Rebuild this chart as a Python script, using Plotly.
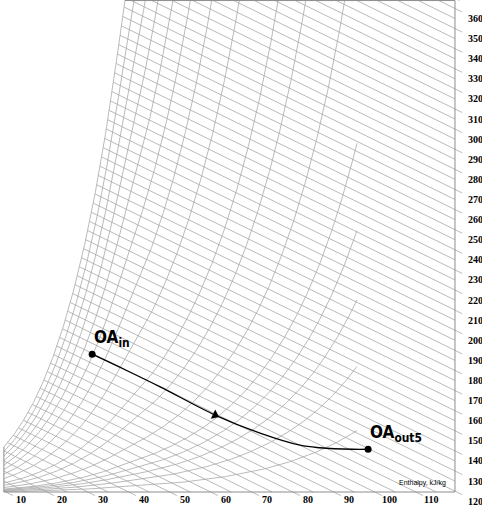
import numpy as np
import plotly.graph_objects as go

# ---- values ----
rh_levels = [100, 90, 80, 70, 60, 50, 40, 30, 20, 15, 10, 6.5, 5, 3.75, 2.5, 1.25]   # relative humidity, %
enthalpy_grid = list(range(10, 370, 5))                                             # kJ/kg, one line every 5
enthalpy_labels = list(range(10, 370, 10))                                          # labelled lines

# process OA_in -> OA_out5 (dry bulb degC, humidity ratio g/kg)
process_T = [30.9, 38.9, 47.4, 60.7, 71.6, 81.3, 86.1, 94.1, 97.8]
process_W = [27.4, 24.3, 20.9, 15.3, 11.7, 9.3, 8.8, 8.5, 8.5]
point_names = ["OA<sub>in</sub>", "OA<sub>out5</sub>"]
point_T = [30.9, 97.8]
point_W = [27.4, 8.5]
arrow_T, arrow_W = 60.7, 15.3

# chart extents
T_MIN, T_MAX, T_EDGE = 9.5, 95.1, 118.86
W_TOP = 97.7
T_TOP = 38.86          # saturation meets the top edge here
X_RANGE = [8.56, 125.41]
Y_RANGE = [-2.98, 97.81]
FIG_W, FIG_H = 482, 507
PX_T = FIG_W / (X_RANGE[1] - X_RANGE[0])
PX_W = FIG_H / (Y_RANGE[1] - Y_RANGE[0])

# saturation ratio: slope of ln(ps/p) follows B/(T+C)^2 at low T, levels off at high T
SAT_B, SAT_C, SAT_SLOPE_HI = 930.0, 86.5, 0.043

GRID = "#a8a8a8"
FRAME = "#8c8c8c"

t_grid = np.linspace(T_MIN - 1, T_EDGE, 3000)
sig = SAT_B / (t_grid + SAT_C) ** 2
blend = np.clip((43.0 - t_grid) / 8.0, 0, 1)
blend = 0.5 - 0.5 * np.cos(np.pi * blend)
sig = SAT_SLOPE_HI + (sig - SAT_SLOPE_HI) * blend
ln_s = np.concatenate([[0.0], np.cumsum(0.5 * (sig[1:] + sig[:-1]) * np.diff(t_grid))])
s_top = W_TOP / (622.0 + W_TOP)
ln_s = ln_s - np.interp(T_TOP, t_grid, ln_s) + np.log(s_top)


def humidity(t, rh):
    s = np.exp(np.interp(t, t_grid, ln_s)) * rh / 100.0
    w = np.where(s < 0.95, 622.0 * s / (1.0 - np.minimum(s, 0.95)), np.nan)
    return w


def enthalpy(t, w):
    return 1.006 * t + 2.501 * w


fig = go.Figure()

# relative humidity curves
t_fine = np.linspace(T_MIN, T_MAX, 800)
rx, ry = [], []
for rh in rh_levels:
    w = humidity(t_fine, rh)
    keep = w <= W_TOP + 3
    rx += list(t_fine[keep]) + [None]
    ry += list(w[keep]) + [None]
fig.add_trace(go.Scatter(x=rx, y=ry, mode="lines", line=dict(color=GRID, width=0.8),
                         hoverinfo="skip", showlegend=False))

# enthalpy lines: from the saturation curve (or chart edge) to the frame
w_sat = humidity(t_fine, 100)
ok = w_sat <= W_TOP
h_sat = enthalpy(t_fine[ok], w_sat[ok])
t_sat_top = float(np.interp(W_TOP, w_sat[ok], t_fine[ok]))
h_top = enthalpy(t_sat_top, W_TOP)
ext = 8.0
dx = 0.898 * ext / PX_T
dy = -0.44 * ext / PX_W

hx, hy = [], []
label_pts = []
for h in enthalpy_grid:
    if h < h_sat[0]:
        t0, w0 = T_MIN, (h - 1.006 * T_MIN) / 2.501
    elif h <= h_top:
        t0 = float(np.interp(h, h_sat, t_fine[ok]))
        w0 = (h - 1.006 * t0) / 2.501
    else:
        w0 = W_TOP
        t0 = (h - 2.501 * W_TOP) / 1.006
    if h - 1.006 * T_EDGE > 0:
        t1, w1, side = T_EDGE, (h - 1.006 * T_EDGE) / 2.501, "right"
    else:
        t1, w1, side = h / 1.006, 0.0, "bottom"
    if w0 < 0:
        continue
    if h in enthalpy_labels:
        hx += [t0, t1 + dx, None]
        hy += [w0, w1 + dy, None]
        label_pts.append((h, t1, w1, side))
    else:
        hx += [t0, t1, None]
        hy += [w0, w1, None]
fig.add_trace(go.Scatter(x=hx, y=hy, mode="lines", line=dict(color=GRID, width=0.8),
                         hoverinfo="skip", showlegend=False))

# frame
w_left = float(humidity(np.array([T_MIN]), 100)[0])
fig.add_trace(go.Scatter(
    x=[T_MIN, T_MIN, None, T_MIN, T_EDGE, T_EDGE, t_sat_top],
    y=[w_left, 0, None, 0, 0, W_TOP, W_TOP],
    mode="lines", line=dict(color=FRAME, width=1), hoverinfo="skip", showlegend=False))

# process line
fig.add_trace(go.Scatter(x=process_T, y=process_W, mode="lines",
                         line=dict(color="black", width=1.3, shape="spline"),
                         hoverinfo="skip", showlegend=False))
fig.add_trace(go.Scatter(x=[arrow_T], y=[arrow_W], mode="markers",
                         marker=dict(symbol="triangle-right", size=9, color="black", angle=25),
                         hoverinfo="skip", showlegend=False))
fig.add_trace(go.Scatter(x=point_T, y=point_W, mode="markers",
                         marker=dict(size=7, color="black"),
                         hoverinfo="skip", showlegend=False))

annotations = []
for name, t, w in zip(point_names, point_T, point_W):
    annotations.append(dict(x=t, y=w, text="<b>" + name + "</b>", showarrow=False,
                            xanchor="left", yanchor="bottom", xshift=0, yshift=2,
                            font=dict(family="Liberation Sans Narrow, DejaVu Sans Condensed, sans-serif",
                                      size=17, color="black")))

tick_font = dict(family="Liberation Serif, Times New Roman, serif", size=10, color="black")
for h, t, w, side in label_pts:
    if side == "bottom":
        annotations.append(dict(x=t, y=w, text="<b>%d</b>" % h, showarrow=False,
                                xanchor="center", yanchor="bottom", xshift=15, yshift=-15,
                                font=tick_font))
    else:
        annotations.append(dict(x=t, y=w, text="<b>%d</b>" % h, showarrow=False,
                                xanchor="left", yanchor="middle", xshift=11, yshift=-10,
                                font=tick_font))

annotations.append(dict(x=T_EDGE, y=0, text="Enthalpy, kJ/kg", showarrow=False,
                        xanchor="right", yanchor="middle", xshift=-7, yshift=9,
                        font=dict(family="Liberation Sans, Arial, sans-serif", size=7, color="black")))

fig.update_layout(
    width=FIG_W, height=FIG_H,
    margin=dict(l=0, r=0, t=0, b=0),
    paper_bgcolor="white", plot_bgcolor="white",
    xaxis=dict(range=X_RANGE, visible=False, fixedrange=True),
    yaxis=dict(range=Y_RANGE, visible=False, fixedrange=True),
    annotations=annotations,
)

fig.write_html("out.html", config={"displayModeBar": False},
               post_script="document.body.style.margin='0px';")
